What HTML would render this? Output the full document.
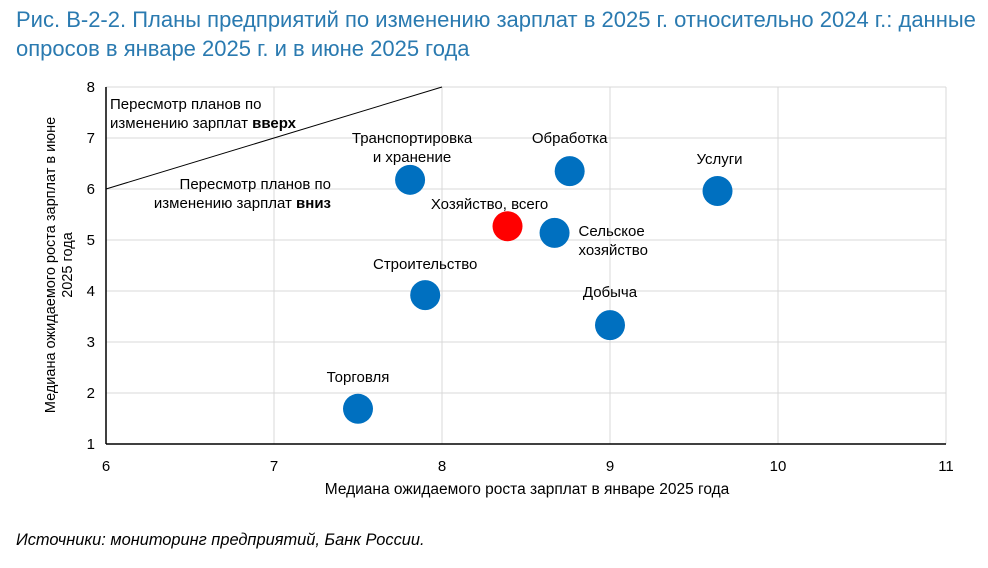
<!DOCTYPE html>
<html><head><meta charset="utf-8"><style>
body{margin:0;background:#fff;width:988px;height:563px;overflow:hidden;font-family:"Liberation Sans",sans-serif}
</style></head><body>
<svg width="988" height="563" xmlns="http://www.w3.org/2000/svg" font-family="Liberation Sans, sans-serif">
<text x="16" y="27" font-size="22" fill="#2a7ab0">Рис. В-2-2. Планы предприятий по изменению зарплат в 2025 г. относительно 2024 г.: данные</text>
<text x="16" y="56" font-size="22" fill="#2a7ab0">опросов в январе 2025 г. и в июне 2025 года</text>
<g id="grid"></g>
<g id="axes"></g>
<g id="marks"></g>
<text transform="translate(55,265) rotate(-90)" font-size="14.5" text-anchor="middle"><tspan x="0" dy="0">Медиана ожидаемого роста зарплат в июне</tspan><tspan x="0" dy="17">2025 года</tspan></text>
<text x="527" y="494" font-size="15.5" text-anchor="middle">Медиана ожидаемого роста зарплат в январе 2025 года</text>
<text x="16" y="545" font-size="16.4" font-style="italic">Источники: мониторинг предприятий, Банк России.</text>
<text x="110" y="109" font-size="15"><tspan x="110">Пересмотр планов по</tspan><tspan x="110" dy="19">изменению зарплат <tspan font-weight="bold">вверх</tspan></tspan></text>
<text x="331" y="189" font-size="15" text-anchor="end"><tspan x="331">Пересмотр планов по</tspan><tspan x="331" dy="19">изменению зарплат <tspan font-weight="bold">вниз</tspan></tspan></text>
</svg>
<script>
const categories=["Торговля","Строительство","Транспортировка и хранение","Хозяйство, всего","Сельское хозяйство","Обработка","Добыча","Услуги"];
const janValues=[7.5,7.9,7.81,8.39,8.67,8.76,9.0,9.64];
const junValues=[1.69,3.92,6.18,5.27,5.14,6.35,3.33,5.96];
const xTicks=[6,7,8,9,10,11];
const yTicks=[1,2,3,4,5,6,7,8];
const NS="http://www.w3.org/2000/svg";
const X=v=>106+(v-6)*168, Y=v=>444-(v-1)*51;
function mk(t,a,p){const e=document.createElementNS(NS,t);for(const k in a)e.setAttribute(k,a[k]);p.appendChild(e);return e;}
const g=document.getElementById('grid'),ax=document.getElementById('axes'),m=document.getElementById('marks');
xTicks.forEach(t=>{if(t>6){const l=mk('line',{x1:X(t),x2:X(t),y1:Y(8),y2:Y(1),stroke:'#d9d9d9'},g);

}
const tx=mk('text',{x:X(t),y:471,'font-size':15,'text-anchor':'middle'},ax);tx.textContent=t;

});
yTicks.forEach(t=>{if(t>1){const l=mk('line',{x1:X(6),x2:X(11),y1:Y(t),y2:Y(t),stroke:'#d9d9d9'},g);

}
const tx=mk('text',{x:95,y:Y(t)+5,'font-size':15,'text-anchor':'end'},ax);tx.textContent=t;

});
const xa=mk('line',{x1:X(6),x2:X(11),y1:Y(1),y2:Y(1),stroke:'#000','stroke-width':1.5},ax);


const ya=mk('line',{x1:X(6),x2:X(6),y1:Y(1),y2:Y(8),stroke:'#000','stroke-width':1.5},ax);


const dl=mk('line',{x1:X(6),y1:Y(6),x2:X(8),y2:Y(8),stroke:'#000','stroke-width':1},ax);


const labelOff=[[0,-27,['Торговля']],[0,-26,['Строительство']],[2,-37,['Транспортировка','и хранение']],[-18,-17,['Хозяйство, всего']],[24,3,['Сельское','хозяйство']],[0,-28,['Обработка']],[0,-28,['Добыча']],[2,-27,['Услуги']]];
categories.forEach((c,i)=>{const cx=X(janValues[i]),cy=Y(junValues[i]);
const d=mk('circle',{cx:cx,cy:cy,r:15,fill:i===3?'#ff0000':'#0070c0'},m);


const o=labelOff[i];const anchor=i===4?'start':'middle';
const t=mk('text',{x:cx+o[0],y:cy+o[1],'font-size':15,'text-anchor':anchor},m);
o[2].forEach((s,j)=>{const ts=mk('tspan',{x:cx+o[0],dy:j?19:0},t);ts.textContent=s;});

});
</script>
</body></html>
